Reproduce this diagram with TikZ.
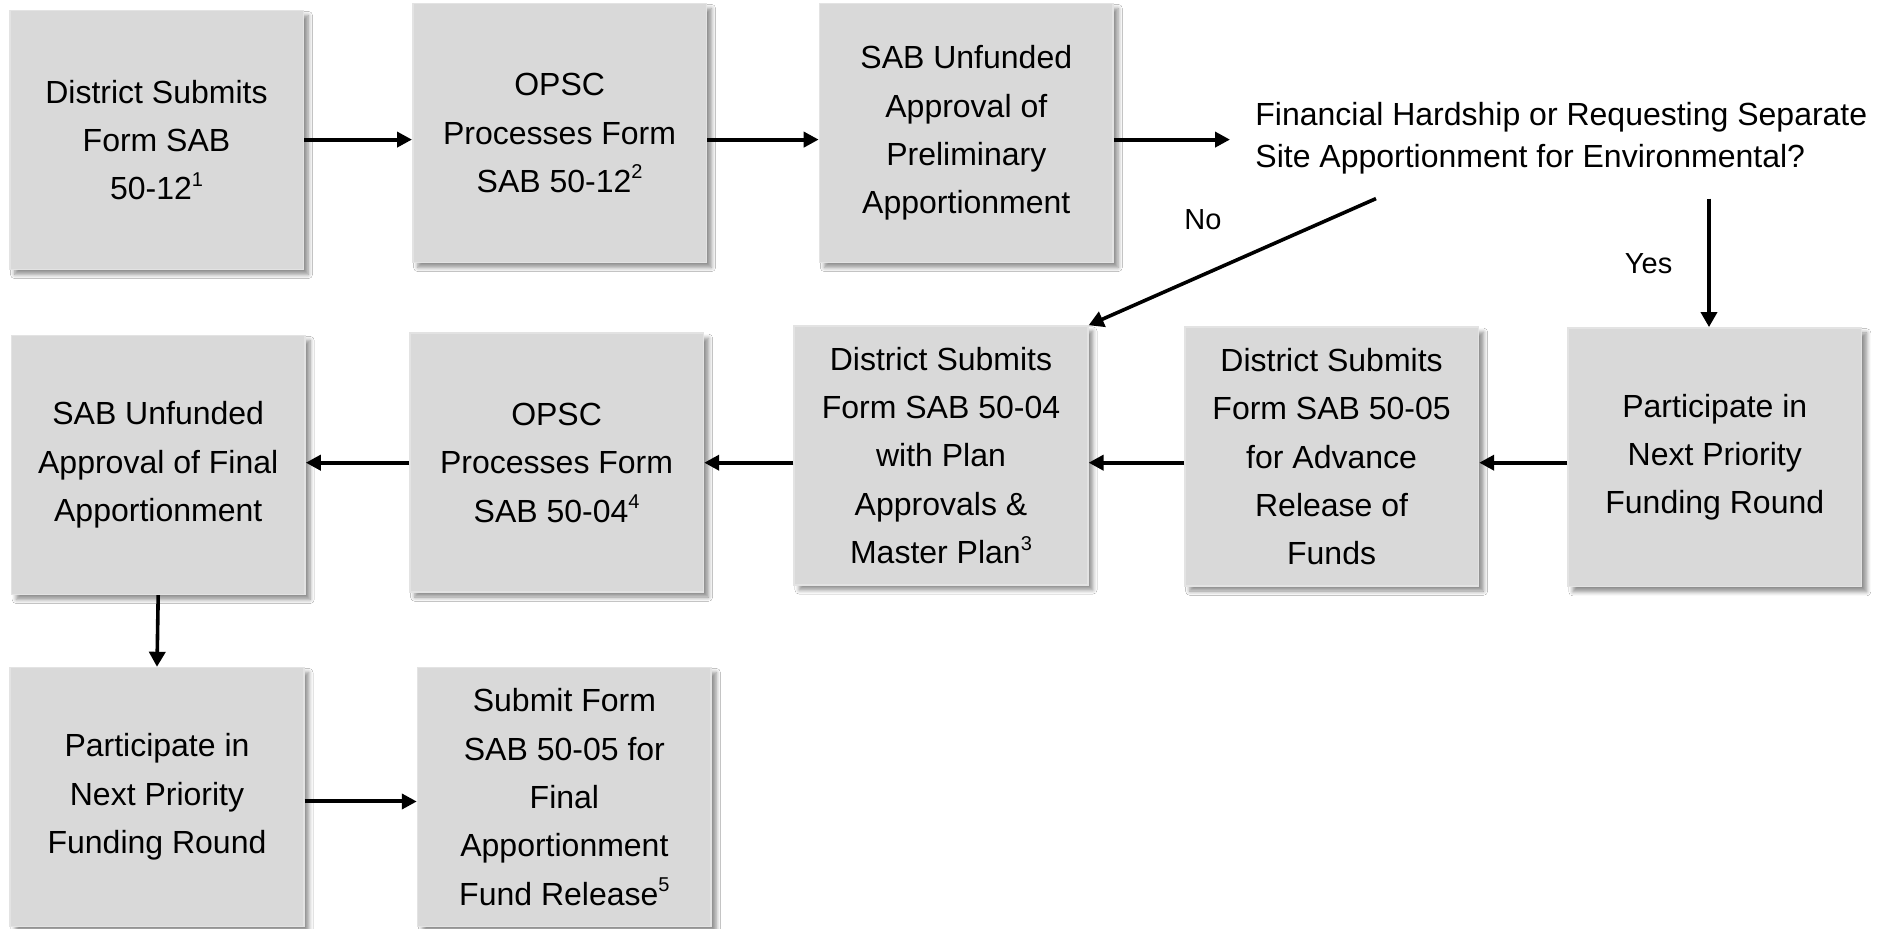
\documentclass[tikz,border=0pt]{standalone}
\usepackage{fontspec}
\setmainfont{Liberation Sans}
\usetikzlibrary{arrows.meta,shadows.blur}
\newcommand{\supnum}[1]{\raisebox{0.42em}{\fontsize{10}{10}\selectfont #1}}
\begin{document}
\begin{tikzpicture}[x=0.5pt,y=-0.5pt,
  boxnode/.style={rectangle, fill=black!15, draw=black!11, line width=0.8pt,
    minimum width=146.8pt, minimum height=129.4pt, inner sep=0pt, align=center,
    font=\fontsize{16}{24.2}\selectfont,
    blur shadow={shadow xshift=2.5pt, shadow yshift=-2.5pt, shadow blur steps=6, shadow opacity=45}},
  arr/.style={line width=2pt, -{Triangle[length=7.5pt,width=7.5pt]}},
  arrthin/.style={line width=1.8pt, -{Triangle[length=7.5pt,width=8pt]}},
  lbl/.style={font=\fontsize{14.5}{16}\selectfont, inner sep=0pt}]
\useasboundingbox (0,0) rectangle (1887,929);
\fill[white] (0,0) rectangle (1887,929);
% row 1
\node[boxnode] (A) at (156.5,140) {District Submits\\Form SAB\\50-12\supnum{1}};
\node[boxnode] (B) at (559.6,133) {OPSC\\Processes Form\\SAB 50-12\supnum{2}};
\node[boxnode] (C) at (966.3,133) {SAB Unfunded\\Approval of\\Preliminary\\Apportionment};
\node[anchor=west, inner xsep=12.5pt, inner ysep=0pt, align=left,
  font=\fontsize{16}{21}\selectfont] (Q) at (1230,138)
  {Financial Hardship or Requesting Separate\\Site Apportionment for Environmental?};
% row 2
\node[boxnode] (D) at (158.2,465) {SAB Unfunded\\Approval of Final\\Apportionment};
\node[boxnode] (E) at (556.6,462.7) {OPSC\\Processes Form\\SAB 50-04\supnum{4}};
\node[boxnode] (F) at (941,455.5) {District Submits\\Form SAB 50-04\\with Plan\\Approvals \&\\Master Plan\supnum{3}};
\node[boxnode] (G) at (1331.6,456.7) {District Submits\\Form SAB 50-05\\for Advance\\Release of\\Funds};
\node[boxnode] (H) at (1714.8,457.3) {Participate in\\Next Priority\\Funding Round};
% row 3
\node[boxnode] (I) at (157,797) {Participate in\\Next Priority\\Funding Round};
\node[boxnode] (J) at (564.4,797) {Submit Form\\SAB 50-05 for\\Final\\Apportionment\\Fund Release\supnum{5}};
% connectors
\draw[arr] (A.east |- 0,139.6) -- (B.west |- 0,139.6);
\draw[arr] (B.east |- 0,139.6) -- (C.west |- 0,139.6);
\draw[arr] (C.east |- 0,139.6) -- (Q.west |- 0,139.6);
\coordinate (nostart) at (1376,198.6);
\coordinate (yesstart) at (1709,198.6);
\draw[arrthin] (nostart) -- (F.north east);
\draw[arrthin] (yesstart) -- (yesstart |- H.north);
\node[lbl] (no) at (1203,220) {No};
\node[lbl] (yes) at (1648.6,263.5) {Yes};
\draw[arr] (H.west |- E) -- (G.east |- E);
\draw[arr] (G.west |- E) -- (F.east |- E);
\draw[arr] (F.west |- E) -- (E.east);
\draw[arr] (E.west) -- (D.east |- E);
\draw[arrthin] (D.south) -- (I.north);
\draw[arr] (I.east |- 0,801.5) -- (J.west |- 0,801.5);
\end{tikzpicture}
\end{document}
